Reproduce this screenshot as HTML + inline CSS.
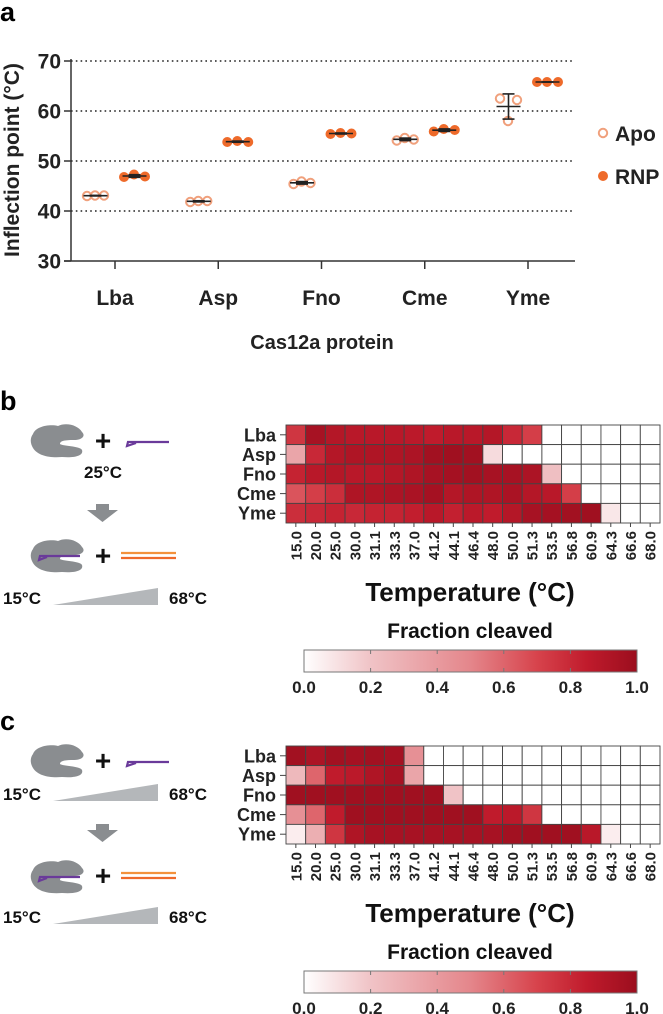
<!DOCTYPE html>
<html><head><meta charset="utf-8">
<style>
html,body{margin:0;padding:0;background:#fff;}
svg{display:block;font-family:"Liberation Sans",Arial,sans-serif;font-weight:bold;}
</style></head>
<body>
<svg id="fig" width="663" height="1014" viewBox="0 0 663 1014" xmlns="http://www.w3.org/2000/svg">
<defs>
<linearGradient id="cbar" x1="0" x2="1" y1="0" y2="0">
<stop offset="0" stop-color="#ffffff"/><stop offset="0.2" stop-color="#f0c3c6"/><stop offset="0.5" stop-color="#e4868b"/><stop offset="0.7" stop-color="#d7434c"/><stop offset="0.85" stop-color="#c01b2c"/><stop offset="1" stop-color="#9b0e1e"/>
</linearGradient>
<g id="blob"><path d="M33,434 C36,426 50,424 58,426 C66,422 78,425 82,432 C86,436 82,440 74,440 C64,440 60,441 60,444 C62,446 80,446 82,450 C84,456 74,458 62,457 C50,458 38,456 33,448 C30,443 30,438 33,434 Z" fill="#8a8d90"/></g>
</defs>
<text x="0" y="21" font-size="27">a</text>
<text x="0" y="410" font-size="27">b</text>
<text x="0" y="730" font-size="27">c</text>
<g id="plotA"></g>
<g id="schemB"></g>
<g id="schemC"></g>
<g id="heatB"></g>
<g id="heatC"></g>
</svg>
<script>
const NS="http://www.w3.org/2000/svg";
const proteins=["Lba","Asp","Fno","Cme","Yme"];
const apoValues=[[43,43.1,43.1],[41.8,42,42],[45.4,45.9,45.6],[54.1,54.6,54.3],[62.5,58,62.2]];
const rnpValues=[[46.8,47.3,46.9],[53.8,54,53.8],[55.4,55.6,55.5],[55.9,56.4,56.2],[65.8,65.8,65.8]];
const yTicks=[30,40,50,60,70];
const temps=["15.0","20.0","25.0","30.0","31.1","33.3","37.0","41.2","44.1","46.4","48.0","50.0","51.3","53.5","56.8","60.9","64.3","66.6","68.0"];
const cbTicks=["0.0","0.2","0.4","0.6","0.8","1.0"];
const heatB=[
[0.75,0.95,0.9,0.88,0.88,0.88,0.87,0.85,0.88,0.88,0.9,0.8,0.72,0,0,0,0,0,0],
[0.35,0.8,0.9,0.92,0.92,0.92,0.93,0.97,0.98,0.97,0.12,0,0,0,0,0,0,0,0],
[0.82,0.88,0.9,0.88,0.88,0.9,0.92,0.95,0.96,0.97,0.95,0.95,0.93,0.22,0,0,0,0,0],
[0.65,0.72,0.78,0.92,0.92,0.93,0.94,0.96,0.9,0.92,0.92,0.94,0.9,0.88,0.72,0,0,0,0],
[0.78,0.8,0.82,0.8,0.82,0.82,0.84,0.88,0.83,0.87,0.85,0.9,0.95,0.96,0.97,0.98,0.08,0,0]];
const heatC=[
[0.97,0.93,0.97,0.96,0.97,0.96,0.45,0,0,0,0,0,0,0,0,0,0,0,0],
[0.25,0.6,0.85,0.87,0.92,0.95,0.35,0,0,0,0,0,0,0,0,0,0,0,0],
[0.98,0.98,0.98,0.98,0.98,0.98,0.98,0.98,0.2,0,0,0,0,0,0,0,0,0,0],
[0.45,0.6,0.85,0.98,0.98,0.98,0.98,0.98,0.98,0.98,0.85,0.87,0.75,0,0,0,0,0,0],
[0.06,0.3,0.75,0.92,0.95,0.95,0.95,0.95,0.95,0.95,0.95,0.97,0.98,0.98,0.98,0.88,0.06,0,0]];

function mk(tag,attrs,parent,txt){const e=document.createElementNS(NS,tag);for(const k in attrs)e.setAttribute(k,attrs[k]);if(txt!==undefined)e.textContent=txt;parent.appendChild(e);return e;}

// ---- panel a ----
const A=document.getElementById('plotA');
const ax0=71,ax1=575,ay=v=>261-(v-30)*5;
const catX=i=>115+i*103.25;
yTicks.forEach(t=>{
  if(t>30){const g=mk('line',{x1:ax0,x2:ax1,y1:ay(t),y2:ay(t),stroke:'#222','stroke-width':1.6,'stroke-dasharray':'1.6 3.2'},A);
  }
  const tk=mk('line',{x1:ax0-7,x2:ax0,y1:ay(t),y2:ay(t),stroke:'#333','stroke-width':1.5},A);
  
  const l=mk('text',{x:ax0-10,y:ay(t)+7.5,'font-size':21,'text-anchor':'end',fill:'#222'},A,t);
  
});
let e=mk('line',{x1:ax0,x2:ax0,y1:ay(30),y2:ay(70)-2,stroke:'#333','stroke-width':1.5},A);

e=mk('line',{x1:ax0-7,x2:ax1,y1:ay(30),y2:ay(30),stroke:'#333','stroke-width':1.5},A);

e=mk('text',{x:0,y:0,'font-size':21,'text-anchor':'middle',transform:'translate(19,160) rotate(-90)',fill:'#222'},A,'Inflection point (°C)');

e=mk('text',{x:322,y:349,'font-size':20,'text-anchor':'middle',fill:'#222'},A,'Cas12a protein');

const apoOff=[-28,-20,-11],rnpOff=[9,19,30];
function series(vals,offs,filled,name){
  vals.forEach((arr,i)=>{
    const cx=catX(i);
    const m=arr.reduce((a,b)=>a+b,0)/arr.length;
    const sd=Math.sqrt(arr.reduce((a,b)=>a+(b-m)*(b-m),0)/(arr.length-1));
    const mx=cx+(offs[0]+offs[2])/2;
    arr.forEach((v,j)=>{
      const c=mk('circle',{cx:cx+offs[j],cy:ay(v),r:filled?5:4.2,fill:filled?'#ee6a2a':'#fff',stroke:filled?'#ee6a2a':'#f0a07c','stroke-width':filled?0:2},A);
      
    });
    const g=mk('g',{stroke:'#222','stroke-width':1.6},A);
    
    mk('line',{x1:mx-12,x2:mx+12,y1:ay(m),y2:ay(m)},g);
    mk('line',{x1:mx,x2:mx,y1:ay(m+sd),y2:ay(m-sd)},g);
    mk('line',{x1:mx-6,x2:mx+6,y1:ay(m+sd),y2:ay(m+sd)},g);
    mk('line',{x1:mx-6,x2:mx+6,y1:ay(m-sd),y2:ay(m-sd)},g);
  });
}
series(apoValues,apoOff,false,'apo');
series(rnpValues,rnpOff,true,'rnp');
proteins.forEach((p,i)=>{
  const t=mk('line',{x1:catX(i),x2:catX(i),y1:ay(30),y2:ay(30)+8,stroke:'#333','stroke-width':1.5},A);
  
  const l=mk('text',{x:catX(i),y:305,'font-size':21,'text-anchor':'middle',fill:'#222'},A,p);
  
});
e=mk('circle',{cx:603,cy:133,r:4.2,fill:'#fff',stroke:'#f0a07c','stroke-width':2},A);

e=mk('text',{x:615,y:141,'font-size':21,fill:'#222'},A,'Apo');

e=mk('circle',{cx:603,cy:176,r:5,fill:'#ee6a2a'},A);

e=mk('text',{x:615,y:184,'font-size':21,fill:'#222'},A,'RNP');


// ---- schematics ----
function blob(g,dx,dy,guide){
  const u=mk('use',{href:'#blob',transform:`translate(${dx},${dy})`},g);
  
  if(guide){const p=mk('path',{d:`M${dx+80},${dy+441} L${dx+40},${dy+441} L${dx+39},${dy+445} L${dx+47},${dy+442}`,fill:'none',stroke:'#6a3a9a','stroke-width':2.2},g);
  }
}
function plus(g,x,y){const t=mk('text',{x:x,y:y,'font-size':28,'text-anchor':'middle',fill:'#111'},g,'+');}
function crRNA(g,y){const p=mk('path',{d:`M169,${y} L128,${y} L127,${y+4} L136,${y+1}`,fill:'none',stroke:'#6a3a9a','stroke-width':2.2},g);}
function dsDNA(g,y){const a=mk('line',{x1:121,x2:176,y1:y,y2:y,stroke:'#f3913c','stroke-width':2.2},g);
  const b=mk('line',{x1:121,x2:176,y1:y+5,y2:y+5,stroke:'#ee6a2a','stroke-width':2.2},g);}
function ramp(g,y){
  const a=mk('text',{x:3,y:y+7,'font-size':17,fill:'#111'},g,'15°C');
  const t=mk('polygon',{points:`53,${y+8} 158,${y+8} 158,${y-9}`,fill:'#b4b7ba'},g);
  const b=mk('text',{x:169,y:y+7,'font-size':17,fill:'#111'},g,'68°C');
}
function arrow(g,y){const p=mk('polygon',{points:`96,${y} 109,${y} 109,${y+6} 118,${y+6} 102.5,${y+18} 87,${y+6} 96,${y+6}`,fill:'#8a8d90'},g);}
const SB=document.getElementById('schemB');
blob(SB,0,0,false);plus(SB,103,450);crRNA(SB,442);
e=mk('text',{x:84,y:478,'font-size':17,fill:'#111'},SB,'25°C');
arrow(SB,504);blob(SB,0,115,true);plus(SB,103,565);dsDNA(SB,553);ramp(SB,597);
const SC=document.getElementById('schemC');
blob(SC,0,320,false);plus(SC,103,770);crRNA(SC,762);ramp(SC,793);
arrow(SC,824);blob(SC,0,436,true);plus(SC,103,885);dsDNA(SC,873);ramp(SC,916);

// ---- heatmaps ----
const stops=[[0,[255,255,255]],[0.2,[240,195,198]],[0.5,[228,134,139]],[0.7,[215,67,76]],[0.85,[192,27,44]],[1,[155,14,30]]];
function color(v){for(let i=1;i<stops.length;i++){if(v<=stops[i][0]){const [a,ca]=stops[i-1],[b,cb]=stops[i];const t=(v-a)/(b-a);return 'rgb('+ca.map((c,k)=>Math.round(c+(cb[k]-c)*t)).join(',')+')';}}return 'rgb(155,14,30)';}
function heat(id,data,top){
  const G=document.getElementById(id);
  const x0=286,x1=660,cw=(x1-x0)/temps.length,ch=19.6;
  data.forEach((row,r)=>{
    row.forEach((v,c)=>{
      const rc=mk('rect',{x:x0+c*cw,y:top+r*ch,width:cw,height:ch,fill:color(v),stroke:'#444','stroke-width':0.9},G);
      
    });
    const t=mk('line',{x1:x0-6,x2:x0,y1:top+(r+0.5)*ch,y2:top+(r+0.5)*ch,stroke:'#444','stroke-width':1},G);
    
    const l=mk('text',{x:x0-10,y:top+(r+0.5)*ch+6.5,'font-size':18,'text-anchor':'end',fill:'#222'},G,proteins[r]);
    
  });
  const by=top+5*ch;
  temps.forEach((tp,c)=>{
    const cx=x0+(c+0.5)*cw;
    const t=mk('line',{x1:cx,x2:cx,y1:by,y2:by+4,stroke:'#444','stroke-width':1},G);
    
    const l=mk('text',{x:0,y:0,'font-size':15,'text-anchor':'end',transform:`translate(${cx+5.5},${by+8}) rotate(-90)`,fill:'#222'},G,tp);
    
  });
  let e=mk('text',{x:470,y:top+176,'font-size':26,'text-anchor':'middle',fill:'#111'},G,'Temperature (°C)');
  
  e=mk('text',{x:470,y:top+213,'font-size':21,'text-anchor':'middle',fill:'#111'},G,'Fraction cleaved');
  
  const cy=top+225,cx0=304,cx1=637;
  e=mk('rect',{x:cx0,y:cy,width:cx1-cx0,height:22,fill:'url(#cbar)',stroke:'#777','stroke-width':1},G);
  
  cbTicks.forEach((tk,i)=>{
    const x=cx0+(cx1-cx0)*parseFloat(tk);
    if(i>0&&i<cbTicks.length-1){const t=mk('line',{x1:x,x2:x,y1:cy,y2:cy+4,stroke:'#777'},G);
      const t2=mk('line',{x1:x,x2:x,y1:cy+18,y2:cy+22,stroke:'#777'},G);}
    const l=mk('text',{x:x,y:cy+43,'font-size':17,'text-anchor':'middle',fill:'#222'},G,tk);
    
  });
}
heat('heatB',heatB,425);
heat('heatC',heatC,746);
</script>
</body></html>
